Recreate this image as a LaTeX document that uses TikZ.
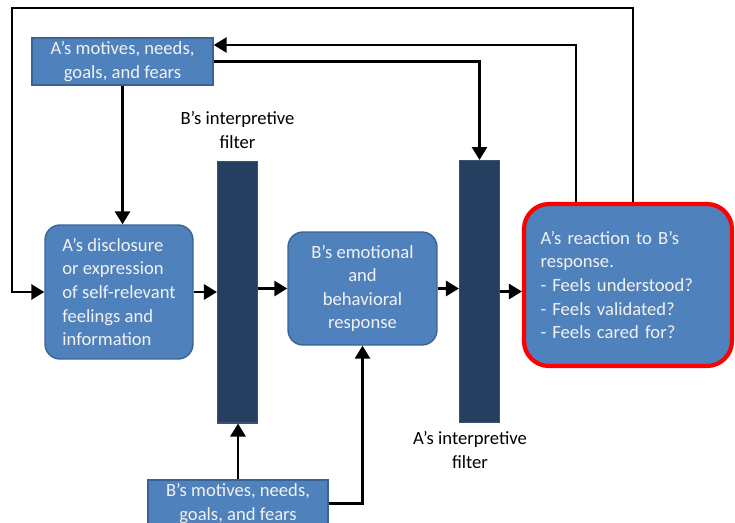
\documentclass[tikz,border=0pt]{standalone}
\usepackage{fontspec}
\setmainfont{Carlito}
\usetikzlibrary{arrows.meta,positioning}
\definecolor{boxblue}{HTML}{4F81BD}
\definecolor{boxline}{HTML}{3A6394}
\definecolor{filtblue}{HTML}{243F60}
\definecolor{txtwhite}{HTML}{F2F2F2}

\begin{document}
\begin{tikzpicture}[x=0.02cm, y=-0.02cm, font=\fontsize{10.6}{13.4}\selectfont,
    box/.style={draw=boxline, fill=boxblue, text=txtwhite, line width=0.8pt, align=center, inner sep=0pt},
    rbox/.style={box, rounded corners=0.3cm},
    filt/.style={draw=filtblue!70!gray, fill=filtblue, line width=0.6pt, minimum width=0.8cm, minimum height=5.24cm, inner sep=0pt},
    lbl/.style={align=center, text=black},
    arr/.style={line width=1.6pt, -{Triangle[length=0.26cm, width=0.3cm]}}]
   \useasboundingbox (0,0) rectangle (735,522);
   \fill[white] (0,0) rectangle (735,522);

   % boxes
   \node[box, minimum width=3.62cm, minimum height=0.94cm] (amot) at (122.5,61.5) {A's motives, needs,\\goals, and fears};
   \node[rbox, minimum width=2.96cm, minimum height=2.68cm, align=left] (disc) at (119,292) {A's disclosure\\or expression\\of self-relevant\\feelings and\\information};
   \node[filt] (bfilt) at (237.5,292) {};
   \node[rbox, minimum width=2.98cm, minimum height=2.26cm] (bemo) at (362.5,288.5) {B's emotional\\and\\behavioral\\response};
   \node[filt] (afilt) at (479.5,291.5) {};
   \node[rbox, draw=red, line width=2.4pt, rounded corners=0.5cm, minimum width=4.16cm, minimum height=3.24cm, text width=3.5cm, align=left] (react) at (628,285) {A's reaction to B's\\response.\\- Feels understood?\\- Feels validated?\\- Feels cared for?};
   \node[box, minimum width=3.6cm, minimum height=0.94cm] (bmot) at (238,503.5) {B's motives, needs,\\goals, and fears};

   % filter labels
   \node[lbl, above=0.12cm of bfilt] (blbl) {B's interpretive\\filter};
   \node[lbl, below=0.05cm of afilt, xshift=-0.19cm] (albl) {A's interpretive\\filter};

   % connectors
   \coordinate (loop) at (12,8);
   \coordinate (back) at (576,45);
   \draw[arr] ([xshift=0.1cm]react.north) |- (loop) |- (disc.west);
   \draw[arr] ([xshift=-1.04cm]react.north) |- (amot.east |- back);
   \draw[arr] (amot.east) -| (afilt.north);
   \draw[arr] (amot.south) -- (amot.south |- disc.north);
   \draw[arr] (disc.east) -- (bfilt.west);
   \draw[arr] (bfilt.east |- bemo.west) -- (bemo.west);
   \draw[arr] (bemo.east) -- (bemo.east -| afilt.west);
   \draw[arr] (afilt.east) -- (afilt.east -| react.west);
   \draw[arr] (bmot.north) -- (bmot.north |- bfilt.south);
   \draw[arr] (bmot.east) -| (bemo.south);
\end{tikzpicture}
\end{document}
